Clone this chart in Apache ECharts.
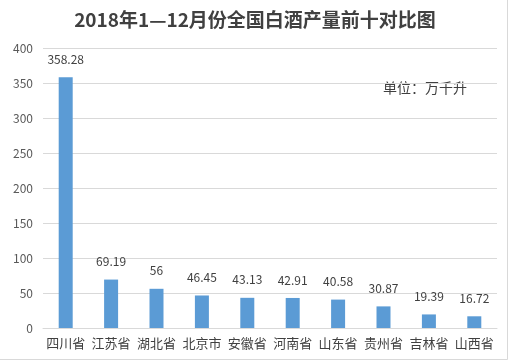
<!DOCTYPE html>
<html><head><meta charset="utf-8">
<script src="https://cdn.jsdelivr.net/npm/echarts@6/dist/echarts.min.js"></script>
<style>html,body{margin:0;padding:0;background:#fff}#c{width:510px;height:362px}</style>
</head><body><div id="c"></div>
<script>
var categories = ['四川省','江苏省','湖北省','北京市','安徽省','河南省','山东省','贵州省','吉林省','山西省'];
var values = [358.28, 69.19, 56, 46.45, 43.13, 42.91, 40.58, 30.87, 19.39, 16.72];
var yTicks = [0, 50, 100, 150, 200, 250, 300, 350, 400];
var font = '"Noto Sans CJK SC", "Microsoft YaHei", sans-serif';
var chart = echarts.init(document.getElementById('c'));
chart.setOption({
  animation: false,
  backgroundColor: '#fff',
  title: {
    text: '2018年1—12月份全国白酒产量前十对比图',
    left: 'center', top: 5,
    textStyle: {fontFamily: font, fontSize: 19, fontWeight: 'bold', color: '#404040'}
  },
  graphic: [{
    type: 'text', left: 383, top: 81,
    style: {text: '单位：万千升', fontFamily: font, fontSize: 14, fill: '#404040'}
  }, {
    type: 'polyline', shape: {points: [[0, 359.5], [507.5, 359.5], [507.5, 0]]},
    style: {fill: 'none', stroke: '#d9d9d9', lineWidth: 1}
  }],
  grid: {left: 43, right: 13, top: 48, bottom: 34, containLabel: false},
  xAxis: {
    type: 'category', data: categories,
    axisLine: {lineStyle: {color: '#d9d9d9'}},
    axisTick: {show: false},
    axisLabel: {fontFamily: font, fontSize: 13, color: '#404040', margin: 9, interval: 0}
  },
  yAxis: {
    type: 'value', min: yTicks[0], max: yTicks[yTicks.length-1], interval: 50,
    axisLine: {show: false}, axisTick: {show: false},
    splitLine: {lineStyle: {color: '#d9d9d9'}},
    axisLabel: {fontFamily: font, fontSize: 12, color: '#595959', margin: 10}
  },
  series: [{
    type: 'bar', data: values, barWidth: 14,
    itemStyle: {color: '#5b9bd5'},
    label: {show: true, position: 'top', distance: 12, fontFamily: font, fontSize: 12, color: '#404040'}
  }]
});
</script></body></html>
